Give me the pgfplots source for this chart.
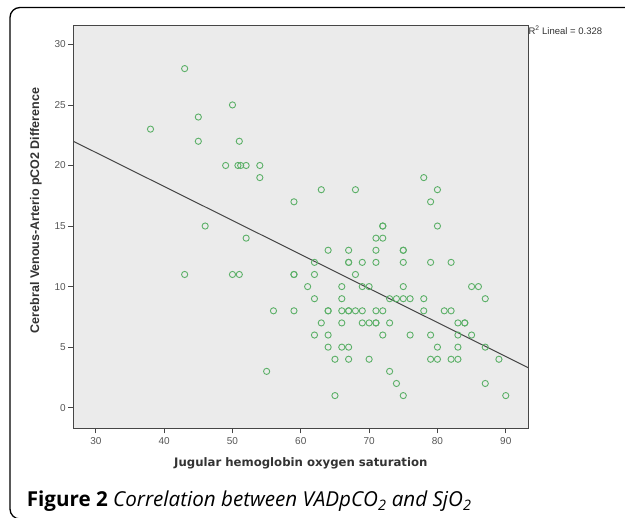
\documentclass[border=0pt]{standalone}
\usepackage{pgfplots}
\pgfplotsset{compat=1.18}
\usepackage{fontspec}
\setmainfont{Liberation Sans}
\newfontfamily\capfont{Open Sans}
\newfontfamily\xlabfont{DejaVu Sans}
\definecolor{spssbg}{RGB}{235,235,235}
\definecolor{spssgreen}{RGB}{92,176,104}
\definecolor{spssline}{RGB}{70,70,70}
\definecolor{ticktext}{RGB}{85,85,85}
\begin{document}
\begin{tikzpicture}
\path[use as bounding box] (0,0) rectangle (625pt,518pt);
\begin{scope}
\clip (0,0) rectangle (625pt,518pt);
% figure frame, only its left part is in view
\draw[line width=1.3pt, rounded corners=10pt] (700pt,-1pt) -- (10pt,-1pt) -- (10pt,510.5pt) -- (700pt,510.5pt);
\end{scope}
\begin{axis}[
  at={(73.3pt,89.7pt)}, anchor=south west,
  scale only axis, width=455pt, height=403.3pt,
  xmin=26.7, xmax=93.3, ymin=-1.7, ymax=31.6,
  xtick={30,40,...,90}, ytick={0,5,...,30},
  tick align=outside, tick pos=left,
  major tick length=5pt,
  every tick/.style={draw=spssline, line width=0.7pt},
  axis line style={draw=spssline, line width=0.9pt},
  axis background/.style={fill=spssbg},
  /pgf/number format/assume math mode=true,
  ticklabel style={font=\fontsize{10}{11}\selectfont, text=ticktext},
  xticklabel style={yshift=-1pt},
  yticklabel style={xshift=1pt},
  xlabel={Jugular hemoglobin oxygen saturation},
  ylabel={Cerebral Venous-Arterio pCO2 Difference},
  xlabel style={font=\xlabfont\bfseries\fontsize{11.7}{12}\selectfont, text=black!80, yshift=-6pt},
  ylabel style={font=\bfseries\fontsize{12.5}{13}\selectfont, text=black!80,
    at={(ticklabel cs:0.54,6pt)}},
  clip=false,
]
\addplot[only marks, mark=o, mark size=3.1pt,
  mark options={draw=spssgreen, line width=0.9pt}] coordinates {
(38,23)(43,28)(43,11)(45,24)(45,22)(46,15)(49,20)(50,25)(50,11)
(50.8,20)(51.2,20)(51,22)(51,11)(52,20)(52,14)(54,20)(54,19)(55,3)
(56,8)(59,17)(59,11)(59,11)(59,8)(61,10)(62,12)(62,11)(62,9)(62,6)
(63,18)(63,7)(64,13)(64,8)(64,8)(64,6)(64,5)(65,4)(65,1)
(66,10)(66,9)(66,8)(66,7)(66,5)(67,13)(67,12)(67,12)(67,8)(67,8)
(67,5)(67,4)(68,18)(68,11)(68,8)(69,12)(69,10)(69,8)(69,7)
(70,10)(70,7)(70,4)(71,14)(71,13)(71,12)(71,8)(71,7)(71,7)
(72,15)(72,15)(72,14)(72,8)(72,6)(73,9)(73,7)(73,3)(74,9)(74,2)
(75,13)(75,13)(75,12)(75,10)(75,9)(75,1)(76,9)(76,6)
(78,19)(78,9)(78,8)(79,17)(79,12)(79,6)(79,4)(80,18)(80,15)(80,5)(80,4)
(81,8)(82,12)(82,8)(82,4)(83,7)(83,6)(83,5)(83,4)(84,7)(84,7)
(85,10)(85,6)(86,10)(87,9)(87,5)(87,2)(89,4)(90,1)
};
% fit line (SPSS total fit)
\addplot[no marks, draw=spssline, line width=1pt] coordinates {(26.7,22.0)(93.3,3.3)};
\node[anchor=north west, font=\fontsize{9.5}{10}\selectfont, text=black!80, inner sep=0pt]
  at (rel axis cs:1,1) [yshift=-1pt] {R\textsuperscript{2} Lineal = 0.328};
\end{axis}
\node[anchor=base west, inner sep=0pt, font=\capfont\fontsize{20.6}{22}\selectfont]
  at (26.7pt,11pt) {\bfseries Figure 2 \mdseries\itshape Correlation between VADpCO\textsubscript{2} and SjO\textsubscript{2}};
\end{tikzpicture}
\end{document}
